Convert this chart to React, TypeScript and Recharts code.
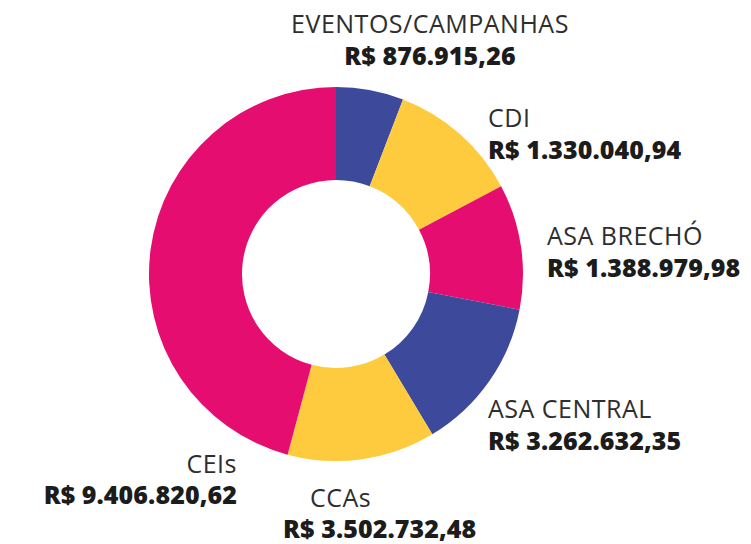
import { PieChart, Pie, Cell } from "recharts"

// slice sizes (degrees of the ring), clockwise from the top
const categories = ["EVENTOS/CAMPANHAS", "CDI", "ASA BRECHÓ", "ASA CENTRAL", "CCAs", "CEIs"]
const shares = [21, 41, 39, 48, 46, 165]
const amounts = [
  "R$ 876.915,26",
  "R$ 1.330.040,94",
  "R$ 1.388.979,98",
  "R$ 3.262.632,35",
  "R$ 3.502.732,48",
  "R$ 9.406.820,62",
]
const colors = ["#3d4a9b", "#fecb3f", "#e50d6f", "#3d4a9b", "#fecb3f", "#e50d6f"]

const data = categories.map((name, i) => ({ name, value: shares[i], amount: amounts[i] }))

// where each label sits: [x name, y name, x amount, y amount, anchor]
const labelPos: [number, number, number, number, string][] = [
  [430, 33, 430, 65, "middle"],
  [488, 127, 488, 159, "start"],
  [547, 245, 547, 277, "start"],
  [488, 418, 488, 450, "start"],
  [310, 507, 283, 538, "start"],
  [237, 473, 237, 504, "end"],
]

const font = "'Open Sans', sans-serif"

function renderLabel(props: any) {
  const p = labelPos[props.index]
  if (!p) return null
  const [xn, yn, xa, ya, anchor] = p
  return (
    <g>
      <text x={xn} y={yn} textAnchor={anchor as any} fontFamily={font} fontSize={25} letterSpacing={0.5} fill="#2e2e2e">
        {props.payload.name}
      </text>
      <text x={xa} y={ya} textAnchor={anchor as any} fontFamily={font} fontSize={25} fontWeight={800} letterSpacing={0.1} fill="#1c1c1c">
        {props.payload.amount}
      </text>
    </g>
  )
}

export default function App() {
  return (
    <div style={{ position: "absolute", left: 0, top: 0, background: "#fff" }}>
      <PieChart width={751} height={544}>
        <Pie
          data={data}
          dataKey="value"
          cx={331}
          cy={269}
          innerRadius={94}
          outerRadius={187}
          startAngle={90}
          endAngle={-270}
          stroke="none"
          label={renderLabel}
          labelLine={false}
          isAnimationActive={false}
        >
          {data.map((d, i) => (
            <Cell key={d.name} fill={colors[i]} />
          ))}
        </Pie>
      </PieChart>
    </div>
  )
}
